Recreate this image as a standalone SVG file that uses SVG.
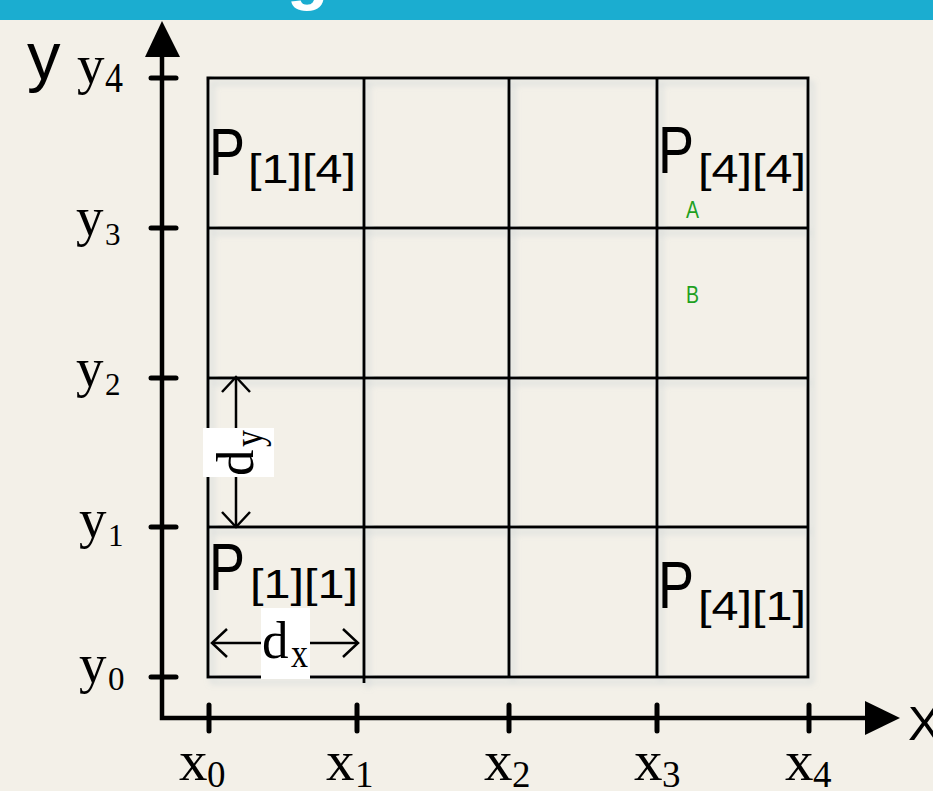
<svg xmlns="http://www.w3.org/2000/svg" width="933" height="791" viewBox="0 0 933 791">
<style>
.ser{font-family:"Liberation Serif","Times New Roman",serif;fill:#000}
.san{font-family:"Liberation Sans",Arial,sans-serif;fill:#000}
.grid{stroke:#000;stroke-width:3;fill:none}
.axis{stroke:#000;stroke-width:4.5;fill:none}
.tick{stroke:#000;stroke-width:5;stroke-linecap:round}
.dim{stroke:#000;stroke-width:2.5;fill:none}
.grn{font-family:"Liberation Sans",Arial,sans-serif;fill:#1fa01f;font-size:23px}
</style>
<defs>
<filter id="sh" x="-10%" y="-10%" width="130%" height="130%">
<feDropShadow dx="4" dy="5" stdDeviation="3" flood-color="#9db0be" flood-opacity="0.35"/>
</filter>
</defs>
<rect x="0" y="0" width="933" height="791" fill="#F3F0E8"/>
<rect x="0" y="0" width="933" height="20" fill="#1BADD0"/>
<text x="287" y="-3" font-family="Liberation Sans,Arial,sans-serif" font-size="68" font-weight="bold" fill="#fff">g</text>

<g id="grid" filter="url(#sh)">
<rect class="grid" x="208" y="78" width="600" height="599"/>
<line class="grid" x1="364" y1="78" x2="364" y2="683"/>
<line class="grid" x1="509" y1="78" x2="509" y2="677" stroke-width="3.5"/>
<line class="grid" x1="657" y1="78" x2="657" y2="677"/>
<line class="grid" x1="208" y1="228" x2="808" y2="228"/>
<line class="grid" x1="208" y1="378" x2="808" y2="378" stroke-width="3.5"/>
<line class="grid" x1="208" y1="527" x2="808" y2="527"/>
</g>

<g id="connectors">
<path class="axis" d="M162,56 L162,718 L866,718" stroke-linejoin="miter"/>
<polygon points="145,57 180,57 162,21" fill="#000"/>
<polygon points="865,701 865,735 900,718" fill="#000"/>
<line class="tick" x1="151" y1="78" x2="176" y2="78"/>
<line class="tick" x1="151" y1="228" x2="176" y2="228"/>
<line class="tick" x1="151" y1="378" x2="176" y2="378"/>
<line class="tick" x1="151" y1="527" x2="176" y2="527"/>
<line class="tick" x1="151" y1="677" x2="176" y2="677"/>
<line class="tick" x1="209" y1="705" x2="209" y2="731"/>
<line class="tick" x1="357" y1="705" x2="357" y2="731"/>
<line class="tick" x1="509" y1="705" x2="509" y2="731"/>
<line class="tick" x1="657" y1="705" x2="657" y2="731"/>
<line class="tick" x1="809" y1="705" x2="809" y2="731"/>
<line class="dim" x1="212" y1="643" x2="358" y2="643"/>
<path class="dim" d="M227,629 L212,643 L227,657 M343,629 L358,643 L343,657"/>
<line class="dim" x1="236" y1="377" x2="236" y2="527"/>
<path class="dim" d="M222,392 L236,377 L250,392 M222,512 L236,527 L250,512"/>
</g>

<g id="axis-labels">
<text class="san" x="27" y="79" font-size="67">y</text>
<text class="san" x="908" y="740" font-size="49">X</text>
<text class="ser" x="77" y="83" font-size="55">y</text>
<text class="ser" x="105" y="92" font-size="42" textLength="18" lengthAdjust="spacingAndGlyphs">4</text>
<text class="ser" x="76" y="235" font-size="55">y</text>
<text class="ser" x="105" y="245" font-size="31">3</text>
<text class="ser" x="76" y="386" font-size="55">y</text>
<text class="ser" x="105" y="395" font-size="31">2</text>
<text class="ser" x="79" y="537" font-size="55">y</text>
<text class="ser" x="108" y="546" font-size="31">1</text>
<text class="ser" x="79" y="682" font-size="55">y</text>
<text class="ser" x="108" y="690" font-size="33">0</text>
<text class="ser" x="179" y="780" font-size="57">x</text>
<text class="ser" x="207" y="787" font-size="37">0</text>
<text class="ser" x="326" y="780" font-size="57">x</text>
<text class="ser" x="355" y="787" font-size="37">1</text>
<text class="ser" x="484" y="780" font-size="57">x</text>
<text class="ser" x="512" y="787" font-size="37">2</text>
<text class="ser" x="634" y="780" font-size="57">x</text>
<text class="ser" x="662" y="787" font-size="37">3</text>
<text class="ser" x="785" y="780" font-size="57">x</text>
<text class="ser" x="813" y="787" font-size="37">4</text>
</g>

<g id="P14">
<text class="san" x="209" y="175" font-size="67" textLength="36" lengthAdjust="spacingAndGlyphs">P</text>
<text class="san" x="248" y="183" font-size="41" textLength="108" lengthAdjust="spacingAndGlyphs">[1][4]</text>
</g>
<g id="P44">
<text class="san" x="658" y="173" font-size="67" textLength="36" lengthAdjust="spacingAndGlyphs">P</text>
<text class="san" x="698" y="183" font-size="41" textLength="108" lengthAdjust="spacingAndGlyphs">[4][4]</text>
</g>
<g id="P11">
<text class="san" x="209" y="590" font-size="67" textLength="36" lengthAdjust="spacingAndGlyphs">P</text>
<text class="san" x="250" y="598" font-size="41" textLength="108" lengthAdjust="spacingAndGlyphs">[1][1]</text>
</g>
<g id="P41">
<text class="san" x="658" y="608" font-size="67" textLength="36" lengthAdjust="spacingAndGlyphs">P</text>
<text class="san" x="698" y="620" font-size="41" textLength="108" lengthAdjust="spacingAndGlyphs">[4][1]</text>
</g>
<g id="A"><text class="grn" x="686" y="218" textLength="13" lengthAdjust="spacingAndGlyphs">A</text></g>
<g id="B"><text class="grn" x="686" y="303" textLength="13" lengthAdjust="spacingAndGlyphs">B</text></g>

<g id="dx">
<rect x="261" y="608" width="49" height="71" fill="#fff"/>
<text class="ser" x="262" y="658" font-size="53">d</text>
<text class="ser" x="291" y="667" font-size="40" textLength="17" lengthAdjust="spacingAndGlyphs">x</text>
</g>
<g id="dy" transform="translate(253,476) rotate(-90)">
<rect x="-1" y="-50" width="49" height="71" fill="#fff"/>
<text class="ser" x="0" y="0" font-size="53">d</text>
<text class="ser" x="29" y="9" font-size="40" textLength="17" lengthAdjust="spacingAndGlyphs">y</text>
</g>
</svg>
